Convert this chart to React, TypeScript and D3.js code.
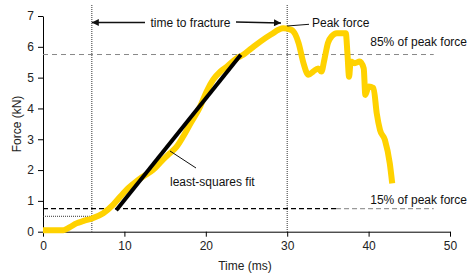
import React, { useEffect, useRef } from 'react';
import * as d3 from 'd3';

// Force trace (time ms, force kN)
const timeMs = [0, 2.5, 3.3, 4.1, 5.0, 6.0, 7.4, 8.6, 9.5, 10.5, 11.4, 12.3, 13.5, 14.6, 15.6, 16.4, 17.2, 18.2, 19.3, 20.1, 20.9, 21.8, 22.6, 23.8, 24.6, 25.6, 26.7, 28.0, 29.5, 30.5, 31.0, 31.4, 32.0, 32.6, 33.2, 33.8, 34.2, 34.6, 35.0, 35.5, 36.1, 37.2, 37.4, 37.6, 37.8, 38.3, 38.9, 39.4, 39.6, 40.0, 40.6, 41.0, 41.4, 42.0, 42.6, 42.9];
const forceKn = [0.05, 0.05, 0.15, 0.27, 0.35, 0.43, 0.6, 0.87, 1.14, 1.42, 1.62, 1.79, 2.0, 2.3, 2.55, 2.75, 3.08, 3.55, 4.06, 4.55, 4.93, 5.2, 5.36, 5.63, 5.74, 5.95, 6.17, 6.4, 6.6, 6.55, 6.4, 6.12, 5.47, 5.09, 5.2, 5.3, 5.2, 5.63, 6.12, 6.35, 6.44, 6.44, 5.79, 5.03, 5.52, 5.47, 5.52, 5.3, 4.44, 4.71, 4.66, 3.84, 3.3, 2.98, 2.22, 1.57];

// least-squares fit segment
const fitStart = [9, 0.7];
const fitEnd = [24.3, 5.74];

const peakTime = 30;
const fractureStart = 6;
const level85 = 5.75;
const level15 = 0.75;
const startLevel = 0.5;

const xTicks = [0, 10, 20, 30, 40, 50];
const yTicks = [0, 1, 2, 3, 4, 5, 6, 7];

const App: React.FC = () => {
    const svgRef = useRef<SVGSVGElement>(null);

    useEffect(() => {
        if (!svgRef.current) return;
        const svg = d3.select(svgRef.current);
        svg.selectAll('*').remove();

        const font = 'Liberation Sans, Arial, sans-serif';
        const x = d3.scaleLinear().domain([0, 50]).range([43, 450]);
        const y = d3.scaleLinear().domain([0, 7]).range([231.7, 16]);

        // arrow marker
        svg.append('defs').append('marker')
            .attr('id', 'arrow')
            .attr('viewBox', '0 0 10 10')
            .attr('refX', 10).attr('refY', 5)
            .attr('markerWidth', 10).attr('markerHeight', 7)
            .attr('markerUnits', 'userSpaceOnUse')
            .attr('orient', 'auto')
            .append('path').attr('d', 'M0,0 L10,5 L0,10 Z').attr('fill', '#111');

        // axes
        const xAxis = svg.append('g')
            .attr('transform', `translate(0,${y(0)})`)
            .call(d3.axisBottom(x).tickValues(xTicks).tickFormat(d3.format('d')).tickSize(5).tickSizeOuter(0).tickPadding(5));
        const yAxis = svg.append('g')
            .attr('transform', `translate(${x(0)},0)`)
            .call(d3.axisLeft(y).tickValues(yTicks).tickFormat(d3.format('d')).tickSize(5).tickSizeOuter(0).tickPadding(4));
        [xAxis, yAxis].forEach(a => {
            a.selectAll('text').style('font-family', font).style('font-size', '12px').attr('fill', '#222');
            a.selectAll('line,path').attr('stroke', '#000');
        });

        svg.append('text')
            .attr('x', 245).attr('y', 270)
            .attr('text-anchor', 'middle')
            .style('font-family', font).style('font-size', '12px').attr('fill', '#222')
            .text('Time (ms)');
        svg.append('text')
            .attr('transform', `translate(21,${124}) rotate(-90)`)
            .attr('text-anchor', 'middle')
            .style('font-family', font).style('font-size', '12px').attr('fill', '#222')
            .text('Force (kN)');

        // reference lines
        const vline = (t: number) => svg.append('line')
            .attr('x1', x(t)).attr('x2', x(t))
            .attr('y1', 5).attr('y2', y(0))
            .attr('stroke', '#333').attr('stroke-width', 1).attr('stroke-dasharray', '1,1');
        vline(fractureStart);
        vline(peakTime);

        svg.append('line')
            .attr('x1', x(0)).attr('x2', x(48))
            .attr('y1', y(level85)).attr('y2', y(level85))
            .attr('stroke', '#888').attr('stroke-width', 1).attr('stroke-dasharray', '5,4');
        svg.append('line')
            .attr('x1', x(36)).attr('x2', x(48))
            .attr('y1', y(level15)).attr('y2', y(level15))
            .attr('stroke', '#999').attr('stroke-width', 1.3).attr('stroke-dasharray', '5,3');
        svg.append('line')
            .attr('x1', x(0)).attr('x2', x(36))
            .attr('y1', y(level15)).attr('y2', y(level15))
            .attr('stroke', '#000').attr('stroke-width', 1.3).attr('stroke-dasharray', '5,3');
        svg.append('line')
            .attr('x1', x(0)).attr('x2', x(fractureStart))
            .attr('y1', y(startLevel)).attr('y2', y(startLevel))
            .attr('stroke', '#333').attr('stroke-width', 1).attr('stroke-dasharray', '1,1');

        // force trace
        const pts = timeMs.map((t, i) => [t, forceKn[i]] as [number, number]);
        svg.append('path')
            .datum(pts)
            .attr('d', d3.line<[number, number]>().x(d => x(d[0])).y(d => y(d[1])).curve(d3.curveMonotoneX))
            .attr('fill', 'none')
            .attr('stroke', '#FFD200')
            .attr('stroke-width', 6)
            .attr('stroke-linejoin', 'round');

        // least-squares fit
        svg.append('line')
            .attr('x1', x(fitStart[0])).attr('y1', y(fitStart[1]))
            .attr('x2', x(fitEnd[0])).attr('y2', y(fitEnd[1]))
            .attr('stroke', '#000').attr('stroke-width', 4);

        const label = (tx: number, ty: number, s: string, anchor = 'start') => svg.append('text')
            .attr('x', tx).attr('y', ty).attr('text-anchor', anchor)
            .style('font-family', font).style('font-size', '12px').attr('fill', '#111')
            .text(s);

        // time to fracture
        svg.append('line')
            .attr('x1', 145).attr('x2', x(fractureStart))
            .attr('y1', 22.5).attr('y2', 22.5)
            .attr('stroke', '#111').attr('stroke-width', 1.3).attr('marker-end', 'url(#arrow)');
        svg.append('line')
            .attr('x1', 236).attr('x2', 281)
            .attr('y1', 22).attr('y2', 23)
            .attr('stroke', '#111').attr('stroke-width', 1.3).attr('marker-end', 'url(#arrow)');
        label(190.5, 27, 'time to fracture', 'middle');

        // peak force
        svg.append('line')
            .attr('x1', x(peakTime)).attr('y1', 26).attr('x2', 309).attr('y2', 24.3)
            .attr('stroke', '#111').attr('stroke-width', 1);
        label(312, 27, 'Peak force');

        label(467, 46, '85% of peak force', 'end');
        label(467, 204, '15% of peak force', 'end');

        svg.append('line')
            .attr('x1', 170).attr('y1', 151).attr('x2', 196).attr('y2', 168)
            .attr('stroke', '#111').attr('stroke-width', 1);
        label(170, 186, 'least-squares fit');
    }, []);

    return (
        <svg ref={svgRef} width={469} height={275}
            style={{ position: 'absolute', left: 0, top: 0, background: '#fff' }} />
    );
};

export default App;
